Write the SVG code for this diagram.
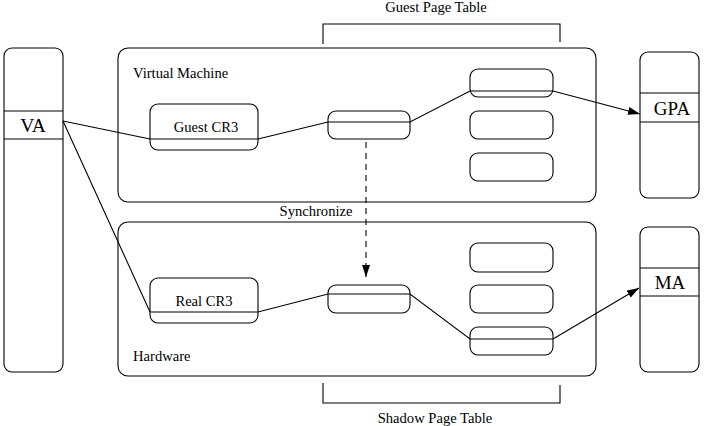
<svg xmlns="http://www.w3.org/2000/svg" width="706" height="426" viewBox="0 0 706 426">
<style>
.b{fill:none;stroke:#000;stroke-width:1.1}
.t{font-family:"Liberation Serif","Times New Roman",serif;fill:#000}
.s{font-size:14.6px}
.l{font-size:19px}
.c{stroke:#000;stroke-width:1.1;fill:none}
</style>
<defs>
<marker id="ah" markerWidth="12" markerHeight="8" refX="12" refY="4" orient="auto" markerUnits="userSpaceOnUse">
<path d="M0,0 L12,4 L0,8 Z" fill="#000"/>
</marker>
<marker id="ah2" markerWidth="8" markerHeight="12" refX="4" refY="12" orient="0" markerUnits="userSpaceOnUse">
<path d="M0,0 L8,0 L4,12 Z" fill="#000"/>
</marker>
</defs>
<rect width="706" height="426" fill="#fff"/>
<g id="va">
<rect class="b" x="4" y="48" width="59" height="324" rx="8"/>
<line class="b" x1="4" y1="111" x2="63" y2="111"/>
<line class="b" x1="4" y1="139" x2="63" y2="139"/>
<text class="t" x="33" y="132" font-size="19.5" text-anchor="middle">VA</text>
</g>
<g id="vm">
<rect class="b" x="118" y="48" width="478" height="154" rx="10"/>
<text class="t s" x="133" y="78">Virtual Machine</text>
</g>
<g id="hw">
<rect class="b" x="118" y="222" width="478" height="154" rx="10"/>
<text class="t s" x="133" y="361">Hardware</text>
</g>
<g id="sync"><text class="t s" x="316" y="216" text-anchor="middle">Synchronize</text></g>
<g id="guestcr3">
<rect class="b" x="150" y="104" width="108" height="46" rx="8"/>
<text class="t s" x="206" y="132" text-anchor="middle">Guest CR3</text>
</g>
<g id="realcr3">
<rect class="b" x="150" y="278" width="108" height="45" rx="8"/>
<text class="t s" x="204" y="306" text-anchor="middle">Real CR3</text>
</g>
<g id="gmid"><rect class="b" x="328" y="111" width="82" height="28" rx="8"/></g>
<g id="hmid"><rect class="b" x="328" y="285" width="82" height="28" rx="8"/></g>
<g id="g1"><rect class="b" x="470" y="69" width="83" height="28" rx="8"/></g>
<g id="g2"><rect class="b" x="470" y="111" width="83" height="28" rx="8"/></g>
<g id="g3"><rect class="b" x="470" y="153" width="83" height="28" rx="8"/></g>
<g id="h1"><rect class="b" x="470" y="243" width="83" height="29" rx="8"/></g>
<g id="h2"><rect class="b" x="470" y="285" width="83" height="28" rx="8"/></g>
<g id="h3"><rect class="b" x="470" y="327" width="83" height="28" rx="8"/></g>
<g id="gpa">
<rect class="b" x="640" y="52" width="59" height="146" rx="8"/>
<line class="b" x1="640" y1="93" x2="699" y2="93"/>
<line class="b" x1="640" y1="122" x2="699" y2="122"/>
<text class="t l" x="672" y="115" text-anchor="middle">GPA</text>
</g>
<g id="ma">
<rect class="b" x="640" y="227" width="59" height="145" rx="8"/>
<line class="b" x1="640" y1="268" x2="699" y2="268"/>
<line class="b" x1="640" y1="296" x2="699" y2="296"/>
<text class="t l" x="670" y="289" text-anchor="middle">MA</text>
</g>
<g id="gpt">
<path class="b" d="M323,44 V24 H560 V42"/>
<text class="t s" x="436" y="12" text-anchor="middle">Guest Page Table</text>
</g>
<g id="spt">
<path class="b" d="M323,383 V403 H560 V385"/>
<text class="t s" x="435" y="423" text-anchor="middle">Shadow Page Table</text>
</g>
<g id="connectors">
<polyline class="c" points="63,121 150,139 258,139 328,122 410,122 470,91 553,91"/>
<line class="c" x1="553" y1="91" x2="640" y2="114" marker-end="url(#ah)"/>
<polyline class="c" points="63,121 150,312 258,312 328,294 410,294 470,339 553,339"/>
<line class="c" x1="553" y1="339" x2="639" y2="288" marker-end="url(#ah)"/>
<line class="c" x1="366" y1="142" x2="366" y2="277" stroke-dasharray="6,5" marker-end="url(#ah2)"/>
</g>
</svg>
